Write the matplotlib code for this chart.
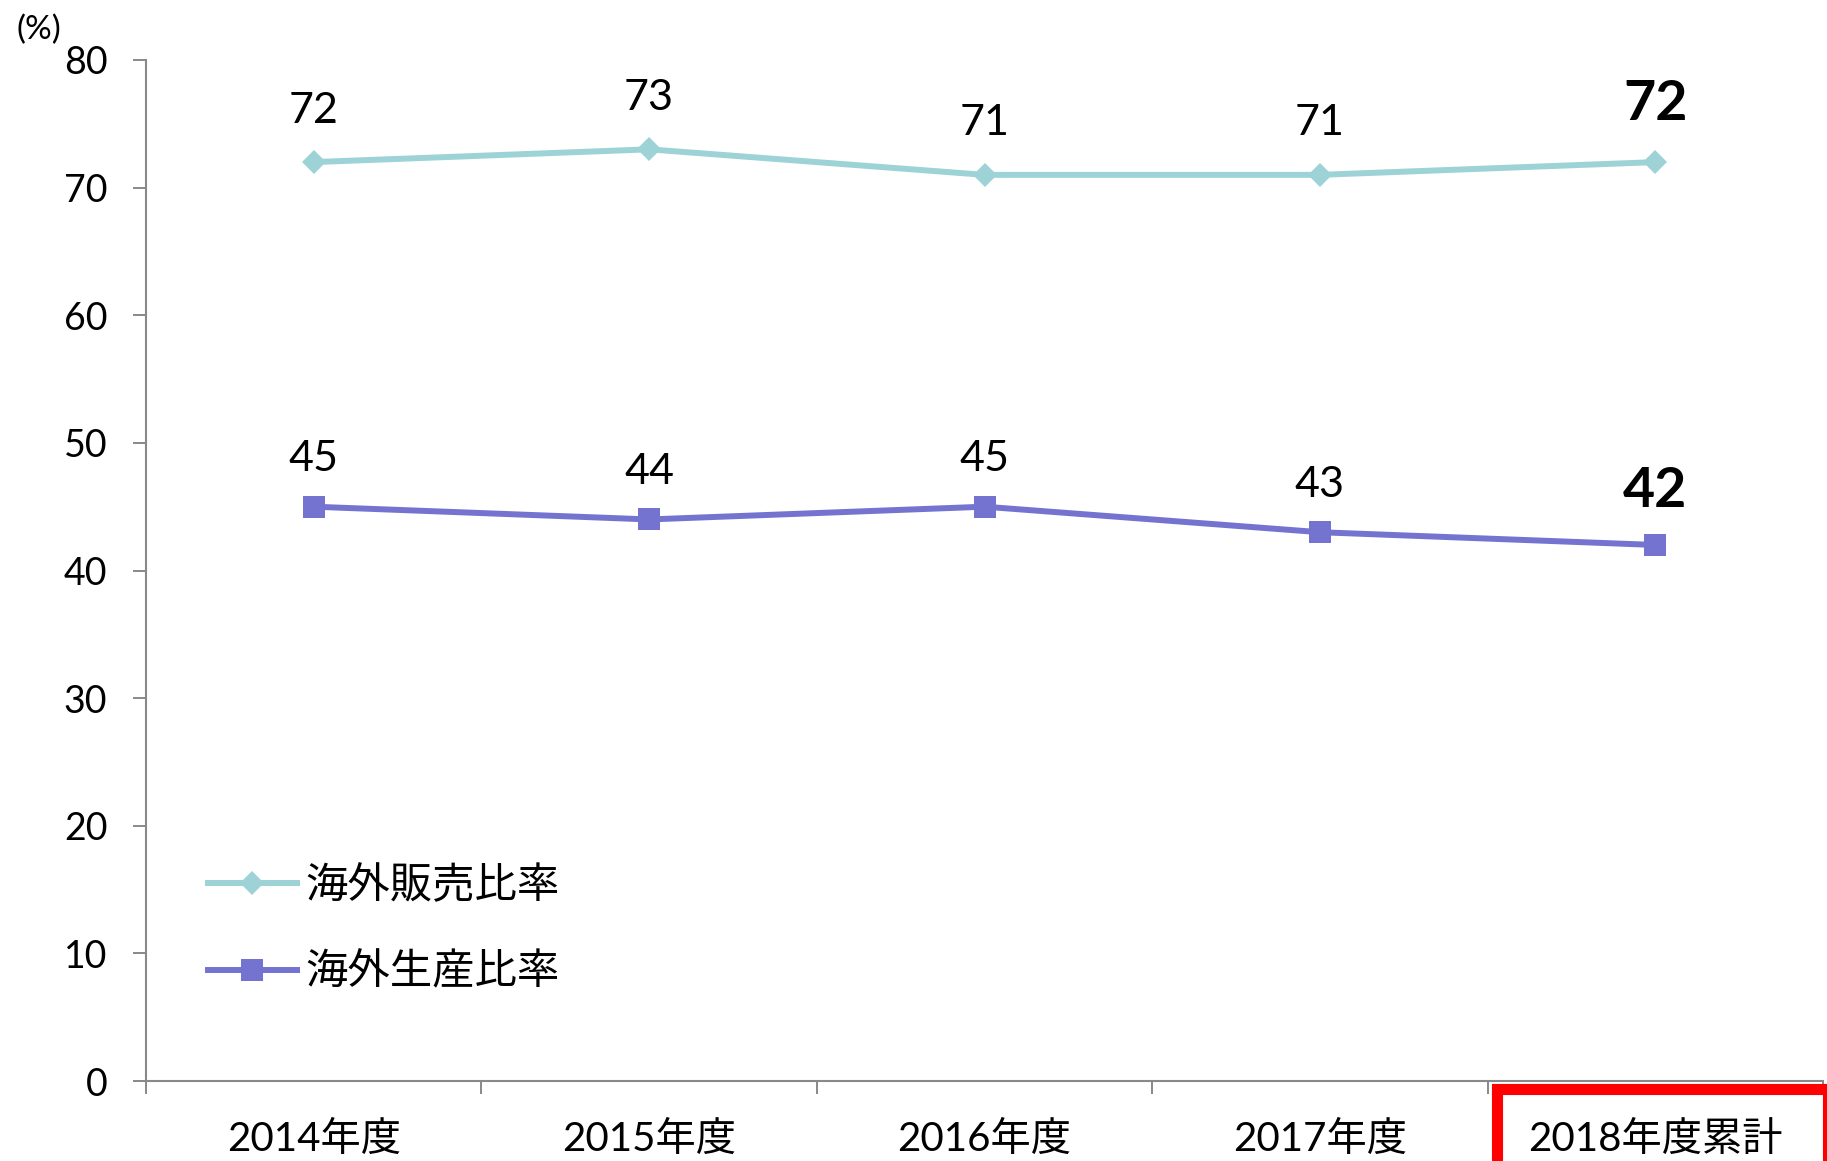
import matplotlib
matplotlib.use("Agg")
import matplotlib.pyplot as plt
from matplotlib.patches import Rectangle
from matplotlib.lines import Line2D

categories = ["2014年度", "2015年度", "2016年度", "2017年度", "2018年度累計"]
sales_ratio = [72, 73, 71, 71, 72]
production_ratio = [45, 44, 45, 43, 42]
series_names = ["海外販売比率", "海外生産比率"]
y_ticks = [0, 10, 20, 30, 40, 50, 60, 70, 80]

W, H = 1827, 1161
DPI = 100
fig = plt.figure(figsize=(W / DPI, H / DPI), dpi=DPI)
fig.patch.set_facecolor("white")

num_font = ["Lato", "Noto Sans CJK JP", "DejaVu Sans"]
cjk_font = ["Noto Sans CJK JP", "DejaVu Sans"]

left, right = 146 / W, 1823 / W
bottom, top = (H - 1081) / H, (H - 60) / H
ax = fig.add_axes([left, bottom, right - left, top - bottom])

c_sales = "#9DD3D6"
c_prod = "#7474D0"
x = list(range(len(categories)))

ax.plot(x, sales_ratio, color=c_sales, lw=4.3, marker="D", ms=12.5,
        markeredgewidth=0, solid_joinstyle="miter")
ax.plot(x, production_ratio, color=c_prod, lw=4.3, marker="s", ms=16,
        markeredgewidth=0)

for i, (s, p) in enumerate(zip(sales_ratio, production_ratio)):
    last = i == len(categories) - 1
    kw = dict(ha="center", va="center", family=num_font,
              fontsize=40 if last else 31,
              fontweight="bold" if last else "normal",
              textcoords="offset points", color="black")
    ax.annotate(str(s), (i, s), xytext=(0, 42 if last else 37), **kw)
    ax.annotate(str(p), (i, p), xytext=(0, 39 if last else 34), **kw)

ax.set_xlim(-0.5, len(categories) - 0.5)
ax.set_ylim(0, 80)
ax.set_yticks(y_ticks)
ax.set_yticklabels([str(v) for v in y_ticks], family=num_font, fontsize=27)

ax.set_xticks(x)
ax.set_xticklabels(categories, family=num_font, fontsize=29)
ax.set_xticks([i - 0.5 for i in range(len(categories) + 1)], minor=True)
ax.tick_params(axis="x", which="major", length=0, pad=29)
ax.tick_params(axis="x", which="minor", length=9.4, width=1.4, color="#898989",
               direction="out")
ax.tick_params(axis="y", length=9.4, width=1.4, color="#898989", pad=18.5,
               direction="out")

for sp in ["top", "right"]:
    ax.spines[sp].set_visible(False)
for sp in ["left", "bottom"]:
    ax.spines[sp].set_color("#898989")
    ax.spines[sp].set_linewidth(1.5)

# legend
handles = [
    Line2D([], [], color=c_sales, lw=4.3, marker="D", ms=12.5, markeredgewidth=0),
    Line2D([], [], color=c_prod, lw=4.3, marker="s", ms=16, markeredgewidth=0),
]
fig.legend(handles, series_names, loc="upper left",
           bbox_to_anchor=(208 / W, 1 - 864 / H),
           frameon=False, borderpad=0, borderaxespad=0,
           handlelength=2.1, handletextpad=0.2, labelspacing=1.0,
           prop={"family": cjk_font, "size": 30.5})

# (%) unit label
fig.text(16 / W, 1 - 30 / H, "(%)", family=num_font, fontsize=24,
         ha="left", va="center")

# red highlight box around last category
fig.patches.append(Rectangle((1497 / W, -30 / H), (1828 - 1497) / W,
                             (H - 1089 + 30) / H, transform=fig.transFigure,
                             fill=False, edgecolor="#FF0000", lw=8,
                             clip_on=False))

fig.savefig("out.png", dpi=DPI, facecolor="white")
